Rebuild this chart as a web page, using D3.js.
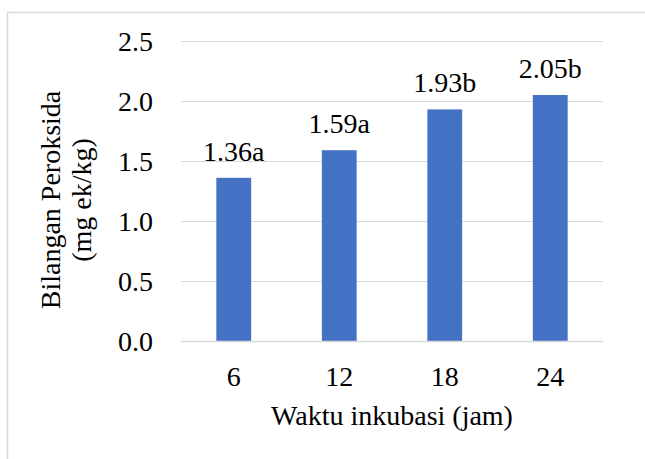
<!DOCTYPE html>
<html>
<head>
<meta charset="utf-8">
<script src="https://cdn.jsdelivr.net/npm/d3@7"></script>
<style>
  html, body { margin: 0; padding: 0; background: #fff; }
  svg { display: block; }
</style>
</head>
<body>
<svg id="chart" width="645" height="459"></svg>
<script>
// Peroxide value by incubation time
const categories = ["6", "12", "18", "24"];
const values = [1.36, 1.59, 1.93, 2.05];
const letters = ["a", "a", "b", "b"];
const yTicks = [0, 0.5, 1.0, 1.5, 2.0, 2.5];

const svg = d3.select("#chart");
const W = 645, H = 459;
const plot = { left: 181, right: 603, top: 41, bottom: 341 };
const fontFamily = "Liberation Serif";
const fontSize = 28;

// outer chart frame
svg.append("rect")
  .attr("x", 7.5).attr("y", 12.5)
  .attr("width", W + 20).attr("height", H + 20)
  .attr("fill", "none").attr("stroke", "#d9d9d9").attr("stroke-width", 1.5);

const x = d3.scaleBand()
  .domain(categories)
  .range([plot.left, plot.right])
  .paddingInner(0.67)
  .paddingOuter(0.335);

const y = d3.scaleLinear()
  .domain([0, 2.5])
  .range([plot.bottom, plot.top]);

// horizontal gridlines
svg.append("g")
  .selectAll("line")
  .data(yTicks.filter(d => d > 0))
  .join("line")
  .attr("x1", plot.left).attr("x2", plot.right)
  .attr("y1", d => Math.round(y(d)) + 0.5).attr("y2", d => Math.round(y(d)) + 0.5)
  .attr("stroke", "#d9d9d9").attr("stroke-width", 1.2);

// y tick labels
svg.append("g")
  .selectAll("text")
  .data(yTicks)
  .join("text")
  .attr("x", 153)
  .attr("y", d => y(d) + 10)
  .attr("text-anchor", "end")
  .attr("font-family", fontFamily)
  .attr("font-size", fontSize)
  .text(d => d.toFixed(1));

// bars
svg.append("g")
  .selectAll("rect")
  .data(values)
  .join("rect")
  .attr("x", (d, i) => x(categories[i]))
  .attr("y", d => y(d))
  .attr("width", x.bandwidth())
  .attr("height", d => y(0) - y(d))
  .attr("fill", "#4472c4");

// baseline axis
svg.append("line")
  .attr("x1", plot.left).attr("x2", plot.right)
  .attr("y1", plot.bottom + 0.5).attr("y2", plot.bottom + 0.5)
  .attr("stroke", "#d9d9d9").attr("stroke-width", 1.5);

// value labels above the bars
svg.append("g")
  .selectAll("text")
  .data(values)
  .join("text")
  .attr("x", (d, i) => x(categories[i]) + x.bandwidth() / 2)
  .attr("y", d => y(d) - 17)
  .attr("text-anchor", "middle")
  .attr("font-family", fontFamily)
  .attr("font-size", fontSize)
  .text((d, i) => d.toFixed(2) + letters[i]);

// x tick labels
svg.append("g")
  .selectAll("text")
  .data(categories)
  .join("text")
  .attr("x", d => x(d) + x.bandwidth() / 2)
  .attr("y", 386)
  .attr("text-anchor", "middle")
  .attr("font-family", fontFamily)
  .attr("font-size", fontSize)
  .text(d => d);

// x axis title
svg.append("text")
  .attr("x", (plot.left + plot.right) / 2)
  .attr("y", 425)
  .attr("text-anchor", "middle")
  .attr("font-family", fontFamily)
  .attr("font-size", fontSize)
  .text("Waktu inkubasi (jam)");

// y axis title (two lines)
const yTitle = svg.append("text")
  .attr("transform", "translate(60,200) rotate(-90)")
  .attr("text-anchor", "middle")
  .attr("font-family", fontFamily)
  .attr("font-size", fontSize);
yTitle.append("tspan").attr("x", 0).attr("y", 0).text("Bilangan Peroksida");
yTitle.append("tspan").attr("x", 0).attr("y", 31).text("(mg ek/kg)");
</script>
</body>
</html>
